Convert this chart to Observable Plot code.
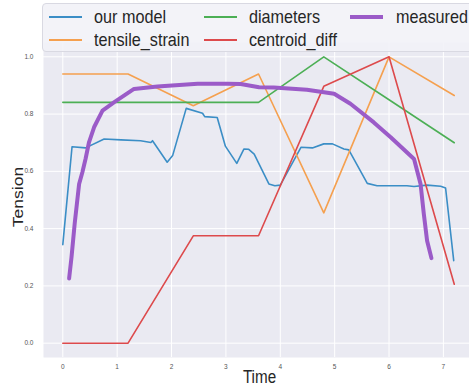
<!DOCTYPE html>
<html>
<head>
<meta charset="utf-8">
<script src="https://cdn.jsdelivr.net/npm/d3@7"></script>
<script src="https://cdn.jsdelivr.net/npm/@observablehq/plot@0.6"></script>
<style>
  html, body { margin: 0; padding: 0; background: #fff; overflow: hidden; }
  #wrap { position: relative; width: 469px; height: 387px; overflow: hidden; font-family: "Liberation Sans", Arial, sans-serif; }
  #legend { position: absolute; left: 42px; top: 3px; width: 460px; height: 49px; background: rgba(242,242,247,0.9); border: 1px solid #d9d9e2; border-radius: 4px; box-sizing: border-box; }
  .item { position: absolute; height: 22px; width: 150px; }
  .swatch { position: absolute; left: 0; width: 33px; }
  .lab { position: absolute; white-space: nowrap; font-size: 18.5px; line-height: 22px; color: #262626; transform: scaleX(0.875); transform-origin: left center; top: 0; }
</style>
</head>
<body>
<div id="wrap"></div>
<script>
// ---- data ----
const seriesNames = ["our model", "tensile_strain", "diameters", "centroid_diff", "measured"];
const seriesColors = ["#3b8ec6", "#f5a04f", "#4caf55", "#dd4a4c", "#9b5bc8"];

const stepTime = [0, 1.2, 2.4, 3.6, 4.8, 6.0, 7.2];
const tensileStrain = [0.94, 0.94, 0.829, 0.94, 0.455, 1.0, 0.865];
const diameters = [0.841, 0.841, 0.841, 0.841, 1.0, 0.85, 0.70];
const centroidDiff = [0, 0, 0.375, 0.375, 0.897, 1.0, 0.206];

const modelTime = [0, 0.17, 0.42, 0.76, 1.07, 1.43, 1.62, 1.65, 1.92, 2.02, 2.27, 2.57, 2.61, 2.84, 2.99, 3.2, 3.33, 3.42, 3.52, 3.79, 3.9, 4.0, 4.38, 4.59, 4.80, 4.96, 5.17, 5.26, 5.60, 5.78, 6.33, 6.46, 6.70, 6.95, 7.04, 7.19];
const modelValue = [0.344, 0.686, 0.682, 0.713, 0.71, 0.707, 0.701, 0.707, 0.632, 0.655, 0.82, 0.803, 0.791, 0.788, 0.688, 0.628, 0.678, 0.677, 0.66, 0.556, 0.55, 0.552, 0.684, 0.682, 0.696, 0.696, 0.678, 0.675, 0.558, 0.55, 0.55, 0.547, 0.552, 0.548, 0.542, 0.288];

const measTime = [0.116, 0.16, 0.22, 0.30, 0.36, 0.42, 0.48, 0.575, 0.73, 0.94, 1.31, 1.74, 2.48, 3.03, 3.27, 3.61, 3.88, 4.49, 4.99, 5.29, 5.72, 6.03, 6.46, 6.58, 6.64, 6.70, 6.78];
const measValue = [0.226, 0.30, 0.42, 0.556, 0.597, 0.645, 0.70, 0.754, 0.812, 0.841, 0.888, 0.896, 0.906, 0.906, 0.905, 0.894, 0.893, 0.885, 0.871, 0.836, 0.771, 0.719, 0.643, 0.556, 0.451, 0.358, 0.297];

const xTicks = [0, 1, 2, 3, 4, 5, 6, 7];
const yTicks = [0.0, 0.2, 0.4, 0.6, 0.8, 1.0];

// ---- build tables ----
const toRows = (xs, ys, name) => xs.map((x, i) => ({x, y: ys[i], name}));
const thin = [
  ...toRows(modelTime, modelValue, "our model"),
  ...toRows(stepTime, tensileStrain, "tensile_strain"),
  ...toRows(stepTime, diameters, "diameters"),
  ...toRows(stepTime, centroidDiff, "centroid_diff")
];
const thick = toRows(measTime, measValue, "measured");
const colorOf = Object.fromEntries(seriesNames.map((n, i) => [n, seriesColors[i]]));

const chart = Plot.plot({
  width: 469,
  height: 387,
  marginLeft: 43,
  marginRight: 0,
  marginTop: 42,
  marginBottom: 30,
  style: {fontFamily: "'Liberation Sans', Arial, sans-serif", background: "transparent"},
  x: {domain: [-0.355, 7.48]},
  y: {domain: [-0.05, 1.05]},
  marks: [
    Plot.frame({fill: "#eaeaf2", stroke: null}),
    Plot.gridX(xTicks, {stroke: "#ffffff", strokeOpacity: 1, strokeWidth: 1}),
    Plot.gridY(yTicks, {stroke: "#ffffff", strokeOpacity: 1, strokeWidth: 1}),
    Plot.axisX(xTicks, {tickSize: 0, tickPadding: 7, fontSize: 6.5, fill: "#555", label: null, tickFormat: d3.format("d")}),
    Plot.axisY(yTicks, {tickSize: 0, tickPadding: 10, fontSize: 6.5, fill: "#555", label: null, tickFormat: d3.format(".1f")}),
    Plot.line(thin, {x: "x", y: "y", z: "name", stroke: d => colorOf[d.name], strokeWidth: 1.6, strokeLinejoin: "round"}),
    Plot.line(thick, {x: "x", y: "y", stroke: colorOf["measured"], strokeWidth: 4, strokeLinecap: "round", strokeLinejoin: "round"}),
    Plot.text(["Time"], {frameAnchor: "bottom", lineAnchor: "middle", textAnchor: "middle", dy: 20, dx: 3, fontSize: 17.5, fill: "#262626", className: "lbl-x"}),
    Plot.text(["Tension"], {frameAnchor: "left", lineAnchor: "middle", textAnchor: "middle", rotate: -90, dx: -25, dy: -3, fontSize: 17.5, fill: "#262626", className: "lbl-y"})
  ]
});

const wrap = document.getElementById("wrap");
wrap.appendChild(chart);

// horizontally compress axis labels like the reference
d3.select(chart).selectAll(".lbl-x text").each(function() {
  const t = this.getAttribute("transform") || "";
  this.setAttribute("transform", t + " scale(0.87,1)");
});
d3.select(chart).selectAll(".lbl-y text").each(function() {
  const t = this.getAttribute("transform") || "";
  this.setAttribute("transform", t.replace("rotate(-90)", "scale(0.87,1) rotate(-90)"));
});

// ---- legend (overlaid on the top of the axes) ----
const legend = document.createElement("div");
legend.id = "legend";
wrap.appendChild(legend);
const legendOrder = ["our model", "tensile_strain", "diameters", "centroid_diff", "measured"];
const colLeft = [6, 161, 307];
const rowTop = [2, 25];
legendOrder.forEach((name, i) => {
  const col = Math.floor(i / 2), row = i % 2;
  const item = document.createElement("div");
  item.className = "item";
  item.style.left = colLeft[col] + "px";
  item.style.top = rowTop[row] + "px";
  const sw = document.createElement("div");
  sw.className = "swatch";
  const w = name === "measured" ? 4 : 1.6;
  sw.style.height = w + "px";
  sw.style.top = (11 - w / 2) + "px";
  sw.style.background = colorOf[name];
  const lab = document.createElement("div");
  lab.className = "lab";
  lab.style.left = (col === 2 ? 46 : 45) + "px";
  lab.textContent = name;
  item.appendChild(sw);
  item.appendChild(lab);
  legend.appendChild(item);
});
</script>
</body>
</html>
